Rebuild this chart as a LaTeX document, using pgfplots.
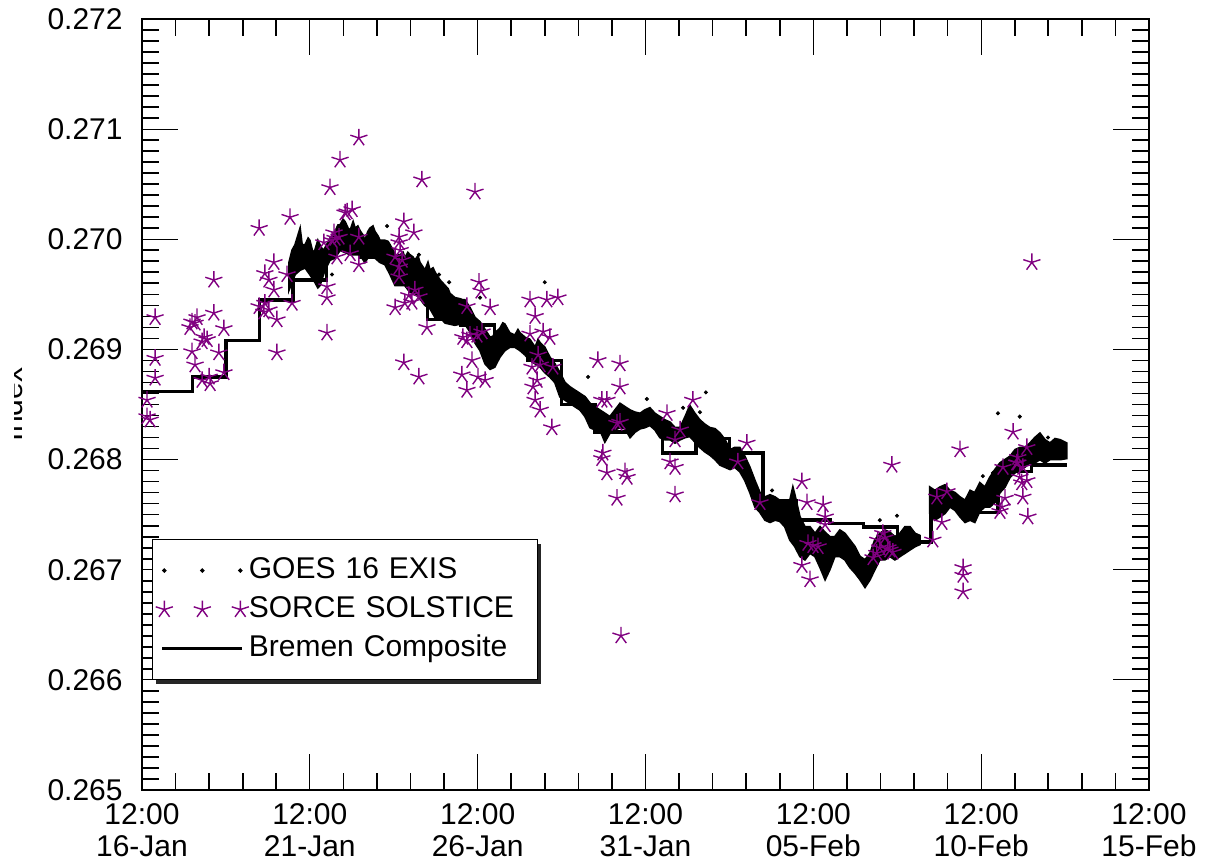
\documentclass[border=0pt]{standalone}
\usepackage{fontspec}
\setmainfont{Liberation Sans}
\usepackage{pgfplots}
\pgfplotsset{compat=1.18}
\usetikzlibrary{shadows}
\definecolor{solpurple}{RGB}{128,0,128}
% keep the legend box's shadow off the little sample drawings inside it
\makeatletter
\tikzset{no preactions/.code={\let\tikz@preactions\pgfutil@empty}}
\makeatother

\begin{document}
\fontsize{15}{16}\selectfont
\begin{tikzpicture}
\begin{scope}
\clip (-63.5pt,-40pt) rectangle (540pt,400pt);
\begin{axis}[
  scale only axis,
  width=503.5pt, height=385.5pt,
  xmin=0, xmax=30, ymin=0.265, ymax=0.272,
  xtick={0,5,10,15,20,25,30},
  xticklabels={{12:00\\16-Jan},{12:00\\21-Jan},{12:00\\26-Jan},{12:00\\31-Jan},{12:00\\05-Feb},{12:00\\10-Feb},{12:00\\15-Feb}},
  x tick label style={align=center, yshift=-1.5pt},
  ytick={0.265,0.266,0.267,0.268,0.269,0.270,0.271,0.272},
  minor x tick num=4, minor y tick num=9,
  scaled y ticks=false,
  y tick label style={/pgf/number format/fixed, /pgf/number format/fixed zerofill, /pgf/number format/precision=3, xshift=-4.5pt},
  /pgf/number format/assume math mode=true,
  tick align=inside, tick pos=both, ticklabel pos=left,
  major tick length=18pt, minor tick length=8.5pt,
  major tick style={line width=0.5pt, black},
  minor tick style={line width=0.85pt, black},
  axis line style={line width=0.85pt},
  ylabel={Index},
  ylabel style={at={(axis description cs:-0.1182,0.5)}, anchor=base, rotate=0},
  legend style={at={(0.0099,0.3256)}, anchor=north west, draw=black, line width=0.6pt, fill=white,
    inner xsep=0pt, inner ysep=5.75pt, row sep=0pt, column sep=0pt,
    nodes={inner xsep=0pt, inner ysep=2.5pt, text height=11pt, text depth=3.5pt, text width=144.5pt, no preactions},
    drop shadow={shadow xshift=1.5pt, shadow yshift=-2pt, fill=black, opacity=0.85}},
  legend cell align=left,
]

% GOES 16 EXIS: dense one-minute samples, drawn as the band they fill
\addplot[fill=black, draw=black, line width=0.9pt, forget plot] coordinates {
(4.38,0.26979) (4.47,0.26990) (4.56,0.26995) (4.65,0.27004) (4.71,0.27010) (4.77,0.26995)
(4.86,0.26995) (4.95,0.27001) (5.00,0.26999) (5.09,0.26988) (5.15,0.26990) (5.24,0.26999)
(5.30,0.26995) (5.39,0.26990) (5.45,0.26992) (5.60,0.27001) (5.75,0.27007) (5.84,0.27013)
(5.90,0.27013) (5.99,0.27018) (6.05,0.27016) (6.14,0.27010) (6.20,0.27008) (6.29,0.27016)
(6.35,0.27010) (6.43,0.27012) (6.49,0.27008) (6.58,0.27004) (6.64,0.26999) (6.73,0.27007)
(6.79,0.27010) (6.88,0.27012) (6.94,0.27007) (7.03,0.27003) (7.09,0.26999) (7.24,0.26999)
(7.33,0.26998) (7.39,0.26995) (7.48,0.26990) (7.54,0.26986) (7.69,0.26986) (7.78,0.26988)
(7.83,0.26983) (7.92,0.26988) (7.98,0.26986) (8.07,0.26984) (8.13,0.26981) (8.22,0.26985)
(8.28,0.26979) (8.43,0.26972) (8.52,0.26979) (8.58,0.26972) (8.67,0.26974) (8.73,0.26970)
(8.88,0.26963) (9.03,0.26958) (9.12,0.26955) (9.17,0.26951) (9.32,0.26947) (9.47,0.26946)
(9.56,0.26945) (9.62,0.26945) (9.77,0.26938) (9.92,0.26929) (10.07,0.26925) (10.22,0.26918)
(10.37,0.26911) (10.46,0.26912) (10.51,0.26915) (10.66,0.26919) (10.75,0.26924) (10.81,0.26923)
(10.90,0.26918) (10.96,0.26915) (11.11,0.26913) (11.20,0.26918) (11.26,0.26915) (11.41,0.26911)
(11.56,0.26909) (11.71,0.26902) (11.80,0.26909) (11.86,0.26906) (12.00,0.26902) (12.15,0.26893)
(12.30,0.26887) (12.45,0.26879) (12.60,0.26870) (12.75,0.26866) (12.90,0.26863) (13.05,0.26860)
(13.20,0.26857) (13.35,0.26851) (13.49,0.26848) (13.64,0.26845) (13.79,0.26842) (13.94,0.26839)
(14.09,0.26845) (14.24,0.26851) (14.39,0.26848) (14.54,0.26845) (14.69,0.26843) (14.84,0.26842)
(14.98,0.26845) (15.13,0.26847) (15.28,0.26842) (15.43,0.26839) (15.58,0.26836) (15.73,0.26834)
(15.88,0.26829) (16.03,0.26829) (16.18,0.26839) (16.32,0.26849) (16.47,0.26842) (16.62,0.26836)
(16.77,0.26832) (16.92,0.26829) (17.07,0.26828) (17.22,0.26824) (17.37,0.26818) (17.52,0.26809)
(17.66,0.26811) (17.81,0.26811) (17.96,0.26803) (18.11,0.26793) (18.26,0.26781) (18.41,0.26770)
(18.56,0.26766) (18.71,0.26768) (18.86,0.26766) (19.00,0.26763) (19.15,0.26761) (19.30,0.26763)
(19.39,0.26775) (19.45,0.26768) (19.60,0.26748) (19.75,0.26739) (19.90,0.26739) (20.05,0.26733)
(20.20,0.26739) (20.35,0.26734) (20.49,0.26730) (20.64,0.26730) (20.79,0.26736) (20.94,0.26733)
(21.09,0.26727) (21.24,0.26721) (21.39,0.26712) (21.54,0.26709) (21.69,0.26715) (21.83,0.26727)
(21.98,0.26733) (22.13,0.26736) (22.28,0.26734) (22.43,0.26730) (22.58,0.26733) (22.73,0.26739)
(22.88,0.26739) (23.03,0.26733) (23.18,0.26731)
(23.18,0.26723) (23.03,0.26721) (22.88,0.26718) (22.73,0.26715) (22.58,0.26712) (22.43,0.26709)
(22.28,0.26712) (22.13,0.26709) (21.98,0.26709) (21.83,0.26700) (21.69,0.26691) (21.54,0.26684)
(21.39,0.26691) (21.24,0.26697) (21.09,0.26702) (20.94,0.26709) (20.79,0.26712) (20.64,0.26712)
(20.49,0.26700) (20.35,0.26691) (20.20,0.26702) (20.05,0.26712) (19.90,0.26715) (19.75,0.26709)
(19.60,0.26712) (19.45,0.26721) (19.30,0.26727) (19.15,0.26739) (19.00,0.26744) (18.86,0.26745)
(18.71,0.26743) (18.56,0.26745) (18.41,0.26752) (18.26,0.26757) (18.11,0.26770) (17.96,0.26781)
(17.81,0.26789) (17.66,0.26793) (17.52,0.26791) (17.37,0.26793) (17.22,0.26795) (17.07,0.26800)
(16.92,0.26804) (16.77,0.26807) (16.62,0.26811) (16.47,0.26816) (16.32,0.26821) (16.18,0.26820)
(16.03,0.26818) (15.88,0.26815) (15.73,0.26818) (15.58,0.26818) (15.43,0.26820) (15.28,0.26827)
(15.13,0.26831) (14.98,0.26829) (14.84,0.26828) (14.69,0.26825) (14.54,0.26820) (14.39,0.26828)
(14.24,0.26829) (14.09,0.26827) (13.94,0.26824) (13.79,0.26816) (13.64,0.26827) (13.49,0.26827)
(13.35,0.26829) (13.20,0.26839) (13.05,0.26845) (12.90,0.26848) (12.75,0.26851) (12.60,0.26854)
(12.45,0.26857) (12.30,0.26870) (12.15,0.26875) (12.00,0.26879) (11.86,0.26884) (11.71,0.26887)
(11.56,0.26890) (11.41,0.26895) (11.26,0.26899) (11.11,0.26902) (10.96,0.26902) (10.81,0.26899)
(10.66,0.26893) (10.51,0.26884) (10.37,0.26882) (10.22,0.26887) (10.07,0.26899) (9.92,0.26906)
(9.77,0.26916) (9.62,0.26923) (9.47,0.26923) (9.32,0.26922) (9.17,0.26923) (9.03,0.26924)
(8.88,0.26929) (8.73,0.26929) (8.58,0.26937) (8.43,0.26940) (8.28,0.26946) (8.13,0.26951)
(7.98,0.26952) (7.83,0.26958) (7.69,0.26958) (7.54,0.26958) (7.39,0.26968) (7.24,0.26977)
(7.09,0.26979) (6.94,0.26983) (6.79,0.26986) (6.64,0.26979) (6.49,0.26986) (6.35,0.26986)
(6.20,0.26986) (6.05,0.26988) (5.90,0.26990) (5.75,0.26983) (5.60,0.26981) (5.45,0.26972)
(5.30,0.26958) (5.24,0.26956) (5.15,0.26961) (5.00,0.26968) (4.86,0.26974) (4.71,0.26972)
(4.56,0.26968) (4.38,0.26954)
} -- cycle;

\addplot[fill=black, draw=black, line width=0.9pt, forget plot] coordinates {
(23.47,0.26775) (23.62,0.26772) (23.77,0.26775) (23.92,0.26777) (24.07,0.26772) (24.22,0.26770)
(24.37,0.26766) (24.52,0.26763) (24.67,0.26772) (24.81,0.26770) (24.96,0.26779) (25.11,0.26775)
(25.26,0.26784) (25.41,0.26791) (25.56,0.26797) (25.71,0.26800) (25.86,0.26803) (26.01,0.26809)
(26.16,0.26811) (26.30,0.26811) (26.45,0.26815) (26.60,0.26820) (26.75,0.26824) (26.90,0.26818)
(27.05,0.26815) (27.20,0.26819) (27.35,0.26818) (27.55,0.26815)
(27.55,0.26801) (27.35,0.26800) (27.20,0.26800) (27.05,0.26800) (26.90,0.26797) (26.75,0.26800)
(26.60,0.26797) (26.45,0.26797) (26.30,0.26793) (26.16,0.26791) (26.01,0.26788) (25.86,0.26784)
(25.71,0.26775) (25.56,0.26770) (25.41,0.26761) (25.26,0.26757) (25.11,0.26757) (24.96,0.26753)
(24.81,0.26743) (24.67,0.26745) (24.52,0.26743) (24.37,0.26748) (24.22,0.26754) (24.07,0.26757)
(23.92,0.26751) (23.77,0.26748) (23.62,0.26745) (23.47,0.26751)
} -- cycle;

% GOES 16 EXIS: isolated samples off the main band
\addplot[only marks, mark=*, mark size=0.8pt, black,
  legend image code/.code={
    \path[no preactions] (-5pt,-4pt) (38.5pt,4pt);
    \fill[black, no preactions] (0pt,0pt) circle[radius=0.8pt] (19pt,0pt) circle[radius=0.8pt] (38pt,0pt) circle[radius=0.8pt];}]
coordinates {
(7.30,0.27012) (5.66,0.26968) (9.15,0.26961) (8.85,0.26968) (8.25,0.26986) (12.00,0.26961)
(13.29,0.26875) (15.04,0.26855) (16.80,0.26861) (16.62,0.26843) (16.12,0.26847) (10.07,0.26947)
(18.77,0.26772) (25.50,0.26842) (25.05,0.26785) (25.35,0.26788) (21.98,0.26745) (22.49,0.26749)
(26.15,0.26839) (26.99,0.26820)
};
\addlegendentry{GOES 16 EXIS}

% SORCE SOLSTICE
\addplot[only marks, mark=star, mark size=4.5pt, solpurple, mark options={line width=0.7pt},
  legend image code/.code={
    \path[no preactions] (-5pt,-4pt) (38.5pt,4pt);
    \path[draw=solpurple, line width=0.7pt, mark size=4.5pt, no preactions] plot[only marks, mark=star] coordinates {(0pt,0pt) (19pt,0pt) (38pt,0pt)};}]
coordinates {
(0.39,0.26929) (0.39,0.26892) (0.39,0.26874) (0.15,0.26854) (0.15,0.26839) (0.24,0.26836)
(1.49,0.26925) (1.58,0.26924) (1.64,0.26929) (1.43,0.26920) (1.85,0.26911) (1.79,0.26907)
(1.94,0.26909) (1.49,0.26898) (1.58,0.26886) (2.14,0.26963) (2.14,0.26933) (2.44,0.26919)
(2.29,0.26897) (2.44,0.26879) (1.79,0.26872) (2.03,0.26869) (2.00,0.26875)
(3.49,0.27010) (3.49,0.26939) (3.66,0.26942) (3.78,0.26936) (4.02,0.26927) (3.93,0.26979)
(3.66,0.26969) (3.78,0.26963) (3.93,0.26954) (4.41,0.27020) (4.32,0.26968) (4.02,0.26897)
(3.63,0.26934)
(5.51,0.26957) (5.51,0.26947) (5.51,0.26915) (4.47,0.26942) (5.60,0.27047) (5.90,0.27072)
(6.46,0.27092) (6.26,0.27027) (6.11,0.27025) (6.05,0.27024) (5.72,0.27006) (5.75,0.27001)
(5.87,0.27002) (5.66,0.26999) (5.81,0.26984) (6.20,0.26987) (6.46,0.27002) (6.46,0.26977)
(5.42,0.26997)
(7.80,0.27016) (8.10,0.27006) (7.66,0.27002) (7.66,0.26997) (7.69,0.26990) (7.54,0.26984)
(7.75,0.26981) (7.66,0.26975) (7.66,0.26966) (8.34,0.27054) (7.54,0.26938) (7.83,0.26942)
(7.95,0.26949) (8.13,0.26954) (8.25,0.26948) (8.04,0.26943) (8.49,0.26920) (7.80,0.26888)
(8.25,0.26875) (9.68,0.26939) (9.92,0.27043) (10.04,0.26961) (10.10,0.26953) (10.37,0.26938)
(9.56,0.26911) (9.77,0.26913) (9.68,0.26908) (9.98,0.26913) (10.13,0.26916) (9.53,0.26877)
(9.68,0.26863) (9.83,0.26890) (10.01,0.26875) (10.22,0.26872)
(11.56,0.26945) (12.06,0.26945) (12.39,0.26947) (11.71,0.26930) (11.56,0.26914) (11.95,0.26916)
(12.15,0.26911) (11.62,0.26884) (11.86,0.26886) (11.77,0.26872) (11.65,0.26866) (11.71,0.26854)
(11.86,0.26845) (12.24,0.26884) (12.21,0.26829) (11.80,0.26895)
(13.58,0.26890) (14.24,0.26887) (14.24,0.26866) (13.70,0.26854) (13.85,0.26854) (14.15,0.26833)
(14.24,0.26834) (13.73,0.26806) (13.70,0.26801) (13.85,0.26788) (14.39,0.26789) (14.45,0.26784)
(14.15,0.26765) (14.27,0.26640) (15.64,0.26842) (16.41,0.26854) (16.03,0.26827) (15.88,0.26818)
(15.73,0.26798) (15.88,0.26793) (15.88,0.26768)
(18.02,0.26815) (17.75,0.26798) (18.41,0.26761) (19.66,0.26780) (19.81,0.26761) (20.29,0.26759)
(20.35,0.26748) (20.35,0.26741) (19.66,0.26704) (19.90,0.26691) (19.84,0.26724) (19.99,0.26722)
(20.14,0.26721) (21.78,0.26711) (21.92,0.26727) (21.98,0.26720) (22.07,0.26733) (22.22,0.26720)
(22.37,0.26716) (21.89,0.26715) (22.34,0.26795) (22.13,0.26729) (22.28,0.26718)
(23.56,0.26727) (23.83,0.26743) (23.68,0.26766) (23.98,0.26771) (24.37,0.26809) (24.46,0.26702)
(24.46,0.26695) (24.46,0.26680) (25.95,0.26825) (25.65,0.26793) (26.09,0.26797) (26.51,0.26979)
(26.36,0.26811) (26.09,0.26802) (26.06,0.26797) (26.24,0.26793) (26.15,0.26784) (26.36,0.26781)
(26.21,0.26779) (26.24,0.26766) (25.71,0.26765) (25.62,0.26757) (25.56,0.26753) (26.39,0.26748)
};
\addlegendentry{SORCE SOLSTICE}

% Bremen composite: one value per day, held constant across the day
\addplot[const plot, black, line width=1.75pt,
  legend image code/.code={
    \path[no preactions] (-5pt,-4pt) (38.5pt,4pt);
    \draw[black, line width=1.75pt, no preactions] (-1pt,0pt) -- (39pt,0pt);}]
coordinates {
(0,0.26862) (1.5,0.26875) (2.5,0.26908) (3.5,0.26945) (4.5,0.26963) (5.5,0.26994)
(6.5,0.26984) (7.5,0.26966) (8.5,0.26927) (9.5,0.26922) (10.5,0.26909) (11.5,0.26890)
(12.5,0.26850) (13.5,0.26825) (14.5,0.26832) (15.5,0.26806) (16.5,0.26819) (17.5,0.26806)
(18.5,0.26763) (19.5,0.26745) (20.5,0.26742) (21.5,0.26739) (22.5,0.26725) (23.5,0.26761)
(24.5,0.26752) (25.5,0.26789) (26.5,0.26795) (27.55,0.26795)
};
\addlegendentry{Bremen Composite}

\end{axis}
\end{scope}
\pgfresetboundingbox
\path[use as bounding box] (-71pt,-36pt) rectangle (536pt,395pt);
\end{tikzpicture}
\end{document}
